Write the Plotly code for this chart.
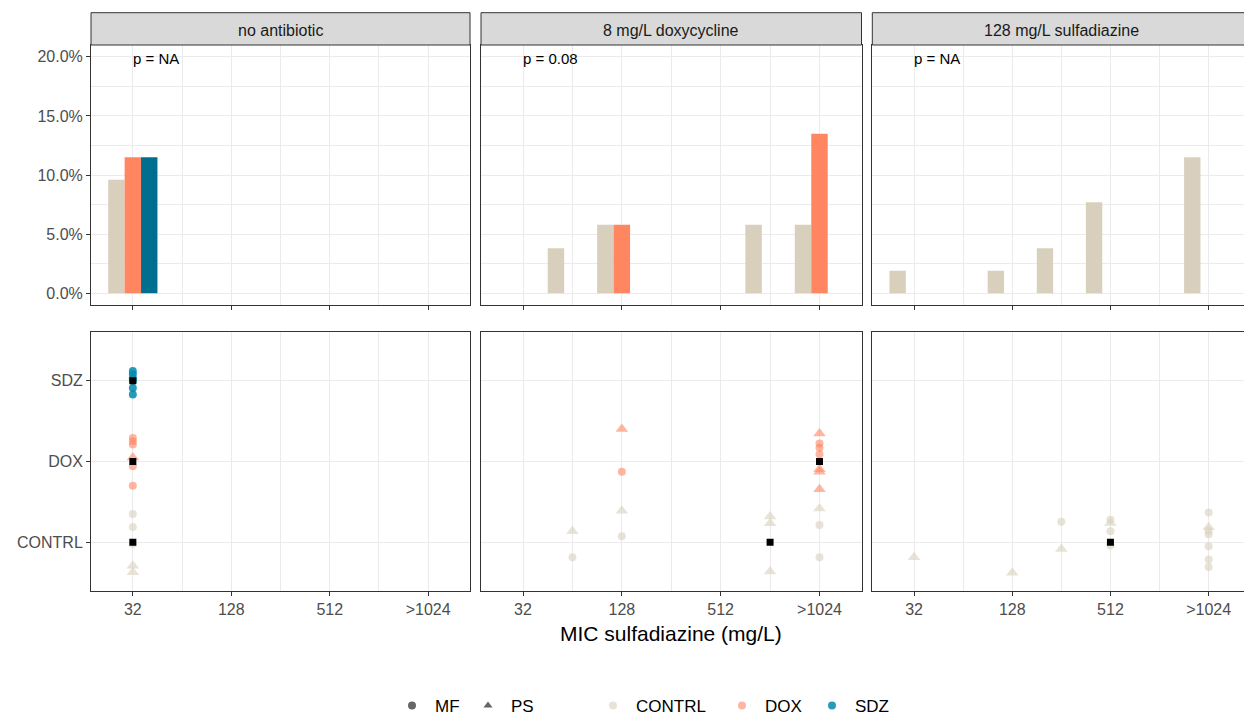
import plotly.graph_objects as go

# ---------------- data ----------------
MIC_LEVELS = ["32", "64", "128", "256", "512", "1024", ">1024"]
MIC_TICKS = ["32", "128", "512", ">1024"]
MIC_MINOR = ["64", "256", "1024"]
PANELS = ["no antibiotic", "8 mg/L doxycycline", "128 mg/L sulfadiazine"]
P_LABELS = ["p = NA", "p = 0.08", "p = NA"]
GROUPS = ["CONTRL", "DOX", "SDZ"]
PCT_TICKS = [0.0, 0.05, 0.10, 0.15, 0.20]

# bar chart: share of isolates per MIC class
noab_contrl_mic = ["32"]
noab_contrl_pct = [0.096]
noab_dox_mic = ["32"]
noab_dox_pct = [0.115]
noab_sdz_mic = ["32"]
noab_sdz_pct = [0.115]
doxy_contrl_mic = ["64", "128", "1024", ">1024"]
doxy_contrl_pct = [0.038, 0.058, 0.058, 0.058]
doxy_dox_mic = ["128", ">1024"]
doxy_dox_pct = [0.058, 0.135]
sulf_contrl_mic = ["32", "128", "256", "512", ">1024"]
sulf_contrl_pct = [0.019, 0.019, 0.038, 0.077, 0.115]

# jittered isolates (vertical jitter around the treatment row)
noab_contrl_mf_mic = ["32", "32", "32"]
noab_contrl_mf_jit = [0.35, 0.19, -0.02]
noab_contrl_ps_mic = ["32", "32"]
noab_contrl_ps_jit = [-0.29, -0.37]
noab_dox_mf_mic = ["32", "32", "32", "32", "32"]
noab_dox_mf_jit = [0.29, 0.25, 0.21, -0.06, -0.30]
noab_dox_ps_mic = ["32"]
noab_dox_ps_jit = [0.05]
noab_sdz_mf_mic = ["32", "32", "32", "32", "32", "32"]
noab_sdz_mf_jit = [0.12, 0.08, 0.03, 0.0, -0.09, -0.17]

doxy_contrl_mf_mic = ["64", "128", ">1024", ">1024"]
doxy_contrl_mf_jit = [-0.185, 0.074, 0.213, -0.185]
doxy_contrl_ps_mic = ["64", "128", "1024", "1024", "1024", ">1024"]
doxy_contrl_ps_jit = [0.135, 0.389, 0.32, 0.234, -0.362, 0.419]
doxy_dox_mf_mic = ["128", ">1024", ">1024", ">1024"]
doxy_dox_mf_jit = [-0.126, 0.223, 0.17, 0.09]
doxy_dox_ps_mic = ["128", ">1024", ">1024", ">1024", ">1024"]
doxy_dox_ps_jit = [0.404, 0.346, -0.097, -0.126, -0.344]

sulf_contrl_mf_mic = ["256", "512", "512", "512", ">1024", ">1024", ">1024", ">1024", ">1024", ">1024"]
sulf_contrl_mf_jit = [0.254, 0.278, 0.135, -0.04, 0.369, 0.143, 0.10, -0.05, -0.214, -0.308]
sulf_contrl_ps_mic = ["32", "128", "256", "512", ">1024"]
sulf_contrl_ps_jit = [-0.185, -0.378, -0.083, 0.238, 0.185]

# median MIC per treatment
noab_median_mic = ["32", "32", "32"]
noab_median_grp = ["CONTRL", "DOX", "SDZ"]
doxy_median_mic = ["1024", ">1024"]
doxy_median_grp = ["CONTRL", "DOX"]
sulf_median_mic = ["512"]
sulf_median_grp = ["CONTRL"]

# ---------------- styles ----------------
BAR_COLORS = {"CONTRL": "#D8D0BD", "DOX": "#FF8661", "SDZ": "#006F8F"}
PT_COLORS = {"CONTRL": "rgba(216,208,189,0.6)", "DOX": "rgba(255,134,97,0.6)", "SDZ": "rgba(0,137,174,0.85)"}
FONT = "Liberation Sans, Arial, sans-serif"
W, H = 1244, 719


def pos(mics):
    return [MIC_LEVELS.index(m) for m in mics]


def ypos(grp, jit):
    return [GROUPS.index(grp) + 1 + j for j in jit]


fig = go.Figure()

bar_sets = [
    (1, "CONTRL", noab_contrl_mic, noab_contrl_pct),
    (1, "DOX", noab_dox_mic, noab_dox_pct),
    (1, "SDZ", noab_sdz_mic, noab_sdz_pct),
    (2, "CONTRL", doxy_contrl_mic, doxy_contrl_pct),
    (2, "DOX", doxy_dox_mic, doxy_dox_pct),
    (3, "CONTRL", sulf_contrl_mic, sulf_contrl_pct),
]
for k, g, mics, vals in bar_sets:
    gi = GROUPS.index(g)
    fig.add_trace(go.Bar(
        x=pos(mics), y=vals, width=1 / 3, offset=-0.5 + gi / 3,
        marker=dict(color=BAR_COLORS[g], line=dict(width=0)),
        xaxis="x" if k == 1 else f"x{k}", yaxis="y" if k == 1 else f"y{k}",
        showlegend=False, hoverinfo="skip"))

pt_sets = [
    (4, "CONTRL", "circle", noab_contrl_mf_mic, noab_contrl_mf_jit),
    (4, "CONTRL", "triangle-up", noab_contrl_ps_mic, noab_contrl_ps_jit),
    (4, "DOX", "circle", noab_dox_mf_mic, noab_dox_mf_jit),
    (4, "DOX", "triangle-up", noab_dox_ps_mic, noab_dox_ps_jit),
    (4, "SDZ", "circle", noab_sdz_mf_mic, noab_sdz_mf_jit),
    (5, "CONTRL", "circle", doxy_contrl_mf_mic, doxy_contrl_mf_jit),
    (5, "CONTRL", "triangle-up", doxy_contrl_ps_mic, doxy_contrl_ps_jit),
    (5, "DOX", "circle", doxy_dox_mf_mic, doxy_dox_mf_jit),
    (5, "DOX", "triangle-up", doxy_dox_ps_mic, doxy_dox_ps_jit),
    (6, "CONTRL", "circle", sulf_contrl_mf_mic, sulf_contrl_mf_jit),
    (6, "CONTRL", "triangle-up", sulf_contrl_ps_mic, sulf_contrl_ps_jit),
]
for k, g, sym, mics, jit in pt_sets:
    fig.add_trace(go.Scatter(
        x=pos(mics), y=ypos(g, jit), mode="markers",
        marker=dict(symbol=sym, size=8 if sym == "circle" else 11, color=PT_COLORS[g], line=dict(width=0)),
        xaxis=f"x{k}", yaxis=f"y{k}", showlegend=False, hoverinfo="skip"))

for k, mics, grps in [(4, noab_median_mic, noab_median_grp), (5, doxy_median_mic, doxy_median_grp),
                      (6, sulf_median_mic, sulf_median_grp)]:
    fig.add_trace(go.Scatter(
        x=pos(mics), y=[GROUPS.index(g) + 1 for g in grps], mode="markers",
        marker=dict(symbol="square", size=7, color="black", line=dict(width=0)),
        xaxis=f"x{k}", yaxis=f"y{k}", showlegend=False, hoverinfo="skip"))

# legend dummies
legend_items = [
    ("MF", "circle", "rgba(0,0,0,0.6)", "legend"),
    ("PS", "triangle-up", "rgba(0,0,0,0.6)", "legend2"),
    ("CONTRL", "circle", PT_COLORS["CONTRL"], "legend3"),
    ("DOX", "circle", PT_COLORS["DOX"], "legend4"),
    ("SDZ", "circle", PT_COLORS["SDZ"], "legend5"),
]
for name, sym, col, lg in legend_items:
    fig.add_trace(go.Scatter(
        x=[None], y=[None], mode="markers", name=name, legend=lg,
        marker=dict(symbol=sym, size=8, color=col, line=dict(width=0)),
        xaxis="x4", yaxis="y4", showlegend=True))

# ---------------- layout ----------------
px = lambda v: v / W
py = lambda v: 1 - v / H

xdom = [(px(91), px(470)), (px(481), px(861.5)), (px(872.3), 1.0)]
xrng = [[-0.85, 6.85], [-0.85, 6.85], [-0.85, 6.72]]
top_dom = (py(305), py(45))
bot_dom = (py(590.7), py(332.3))

axis_common = dict(showline=True, mirror=True, linecolor="#333333", linewidth=1,
                   gridcolor="#EBEBEB", gridwidth=1, zeroline=False, automargin=False,
                   tickfont=dict(family=FONT, size=16, color="#4D4D4D"),
                   tickcolor="#333333", tickwidth=1, ticklen=4)

layout = dict(width=W, height=H, margin=dict(l=0, r=0, t=0, b=0, autoexpand=False),
              paper_bgcolor="white", plot_bgcolor="white",
              font=dict(family=FONT, color="black"), barmode="overlay")

for i in range(6):
    k = i + 1
    col = i % 3
    top = i < 3
    xa = "xaxis" if k == 1 else f"xaxis{k}"
    ya = "yaxis" if k == 1 else f"yaxis{k}"
    xname = "x" if k == 1 else f"x{k}"
    yname = "y" if k == 1 else f"y{k}"
    layout[xa] = dict(axis_common, domain=xdom[col], range=xrng[col], anchor=yname,
                      tickmode="array", tickvals=pos(MIC_TICKS), ticktext=MIC_TICKS,
                      showticklabels=not top, ticks="outside",
                      minor=dict(tickvals=pos(MIC_MINOR), showgrid=True, gridcolor="#EBEBEB", gridwidth=0.5))
    if top:
        layout[ya] = dict(axis_common, domain=top_dom, range=[-0.01, 0.21], anchor=xname,
                          tickmode="array", tickvals=PCT_TICKS, tickformat=".1%",
                          showticklabels=(col == 0), ticks="outside" if col == 0 else "",
                          minor=dict(tickvals=[0.025, 0.075, 0.125, 0.175], showgrid=True,
                                     gridcolor="#EBEBEB", gridwidth=0.5))
    else:
        layout[ya] = dict(axis_common, domain=bot_dom, range=[0.4, 3.6], anchor=xname,
                          tickmode="array", tickvals=[1, 2, 3], ticktext=GROUPS,
                          showticklabels=(col == 0), ticks="outside" if col == 0 else "")

shapes = []
annotations = []
strip_x = [(91, 470), (481, 861.5), (872.3, 1251)]
for col in range(3):
    x0, x1 = strip_x[col]
    shapes.append(dict(type="rect", xref="paper", yref="paper", x0=px(x0), x1=px(x1) if col < 2 else 1.002,
                       y0=py(45), y1=py(12.7), fillcolor="#D9D9D9", line=dict(color="#333333", width=1),
                       layer="above"))
    annotations.append(dict(xref="paper", yref="paper", x=px((x0 + x1) / 2), y=py(30.5), text=PANELS[col],
                            showarrow=False, xanchor="center", yanchor="middle",
                            font=dict(family=FONT, size=16, color="#1A1A1A")))
    annotations.append(dict(xref="x" if col == 0 else f"x{col + 1}", yref="y" if col == 0 else f"y{col + 1}",
                            x=0, y=0.2, text=P_LABELS[col], showarrow=False, xanchor="left",
                            yanchor="middle", xshift=-2, yshift=-2,
                            font=dict(family=FONT, size=15, color="black")))

annotations.append(dict(xref="paper", yref="paper", x=px(671), y=py(633), text="MIC sulfadiazine (mg/L)",
                        showarrow=False, xanchor="center", yanchor="middle",
                        font=dict(family=FONT, size=21, color="black")))

layout["shapes"] = shapes
layout["annotations"] = annotations

leg_centers = [411, 487, 612, 741, 831]
for (name, sym, col, lg), cx in zip(legend_items, leg_centers):
    layout[lg] = dict(orientation="h", x=px(cx - 22), xanchor="left", y=-0.007, yanchor="bottom",
                      bgcolor="rgba(0,0,0,0)", borderwidth=0, itemwidth=36,
                      font=dict(family=FONT, size=17, color="black"))

fig.update_layout(**layout)
fig.write_html("out.html")
